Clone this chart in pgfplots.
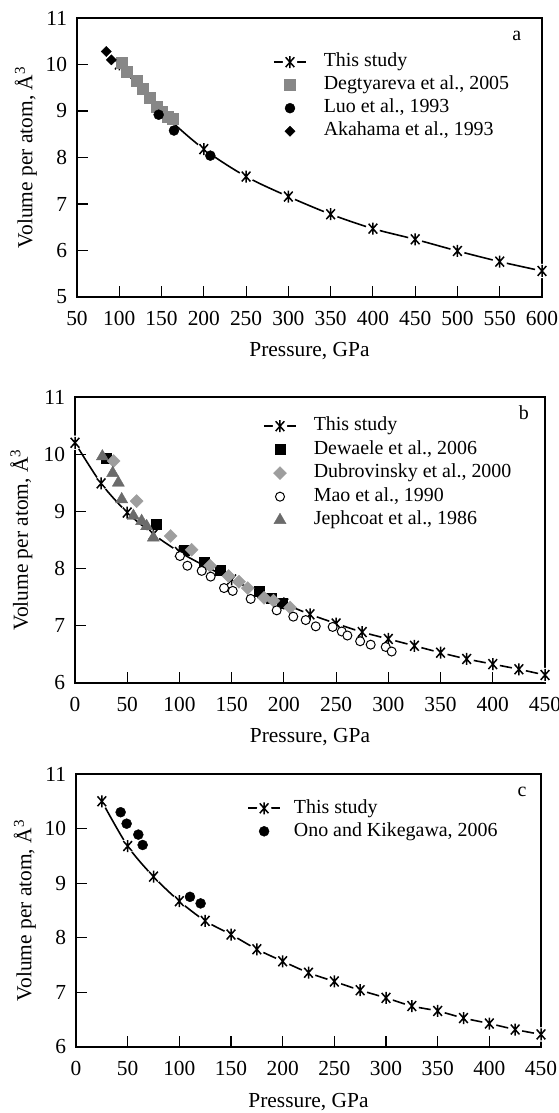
\documentclass[border=0pt]{standalone}
\usepackage{fontspec}
\setmainfont{Liberation Serif}
\usepackage{pgfplots}
\pgfplotsset{compat=1.18}
\newcommand\fs{\fontsize{20}{24}\selectfont}
\newcommand\ft{\fontsize{21.5}{26}\selectfont}
\newcommand\fl{\fontsize{21.5}{26}\selectfont}
\definecolor{degt}{gray}{0.53}
\definecolor{dubr}{gray}{0.62}
\definecolor{jeph}{gray}{0.42}
\pgfdeclareplotmark{vstar}{%
  \pgfpathmoveto{\pgfqpoint{0pt}{\pgfplotmarksize}}%
  \pgfpathlineto{\pgfqpoint{0pt}{-\pgfplotmarksize}}%
  \pgfpathmoveto{\pgfqpoint{-.72\pgfplotmarksize}{.82\pgfplotmarksize}}%
  \pgfpathlineto{\pgfqpoint{.72\pgfplotmarksize}{-.82\pgfplotmarksize}}%
  \pgfpathmoveto{\pgfqpoint{.72\pgfplotmarksize}{.82\pgfplotmarksize}}%
  \pgfpathlineto{\pgfqpoint{-.72\pgfplotmarksize}{-.82\pgfplotmarksize}}%
  \pgfusepathqstroke}
\pgfplotsset{
  panel/.style={
    scale only axis, width=465bp, height=279bp,
    axis line style={line width=1.4bp, black},
    every tick/.style={line width=1.1bp, black},
    major tick length=11bp,
    tick align=inside, xtick pos=left, ytick pos=left,
    /pgf/number format/assume math mode=true,
    tick label style={font=\ft},
    xticklabel style={yshift=-11bp},
    yticklabel style={xshift=-6.5bp},
    label style={font=\fl},
    xlabel={Pressure, GPa},
    xlabel style={at={(axis description cs:0.5,0)}, anchor=base, yshift=-60bp},
    ylabel={Volume per atom, Å\textsuperscript{3}},
    ylabel style={at={(axis description cs:-0.096,0.5)}, anchor=base},
    legend cell align=left,
    legend style={draw=none, fill=none, anchor=north west, inner sep=0pt,
      row sep=4.5bp, column sep=17bp,
      nodes={inner sep=0pt, text height=14bp, text depth=4.5bp, font=\fs}},
  },
  mk/.style={only marks, legend image code/.code={\draw[##1] plot coordinates {(16bp,0bp)};}},
  curve/.style={black, line width=1.6bp, smooth, mark=none, forget plot},
  halo/.style={only marks, mark=*, mark size=7bp, mark options={draw=white, fill=white}, white, forget plot},
  stars/.style={only marks, mark=vstar, mark size=6bp, mark options={line width=1.5bp, black}, black,
    legend image code/.code={\draw[black,line width=1.6bp] (0bp,0bp) -- (32bp,0bp);
      \fill[white] (16bp,0bp) circle[radius=7bp];
      \draw[black,line width=1.5bp] plot[mark=vstar, mark size=6bp] coordinates {(16bp,0bp)};}},
}
\begin{document}
\begin{tikzpicture}
\path[use as bounding box] (0,0) rectangle (559bp,1113bp);
% ---------------- panel a
\begin{axis}[panel, at={(77bp,816bp)}, anchor=south west,
  width=465bp, height=279bp,
  xmin=50, xmax=600, ymin=5, ymax=11,
  xtick={50,100,...,600}, ytick={5,6,...,11},
  legend style={at={(rel axis cs:0.4215,0.8755)}}]
\addplot[curve] coordinates {(100,10.0) (150,8.98) (200,8.18) (250,7.59) (300,7.16) (350,6.78) (400,6.47) (450,6.24) (500,5.99) (550,5.76) (600,5.56)};
\addplot[halo] coordinates {(100,10.0) (150,8.98) (200,8.18) (250,7.59) (300,7.16) (350,6.78) (400,6.47) (450,6.24) (500,5.99) (550,5.76) (600,5.56)};
\addplot[stars] coordinates {(100,10.0) (150,8.98) (200,8.18) (250,7.59) (300,7.16) (350,6.78) (400,6.47) (450,6.24) (500,5.99) (550,5.76) (600,5.56)};
\addlegendentry{This study}
\addplot[mk, mark=square*, mark size=5.5bp, degt, mark options={fill=degt, draw=degt}] coordinates {(102.4,10.03) (108.4,9.85) (120.2,9.65) (127.3,9.49) (136,9.29) (143.8,9.10) (149.8,8.99) (157.6,8.88) (162.8,8.83)};
\addlegendentry{Degtyareva et al., 2005}
\addplot[mk, mark=*, mark size=5bp, black] coordinates {(146.6,8.92) (164.7,8.58) (207.7,8.04)};
\addlegendentry{Luo et al., 1993}
\addplot[mk, mark=square*, mark size=3.6bp, black, mark options={rotate=45}] coordinates {(84.7,10.28) (90.6,10.10)};
\addlegendentry{Akahama et al., 1993}
\node[font=\fs] at (rel axis cs:0.946,0.935) {a};
\end{axis}
% ---------------- panel b
\begin{axis}[panel, at={(75bp,430bp)}, anchor=south west,
  width=470bp, height=286bp,
  xmin=0, xmax=450, ymin=6, ymax=11,
  xtick={0,50,...,450}, ytick={6,7,...,11},
  ylabel style={at={(axis description cs:-0.1,0.5)}},
  legend style={at={(rel axis cs:0.40,0.931)}, row sep=5bp}]
\addplot[curve] coordinates {(0,10.20) (25,9.49) (50,8.98) (75,8.60) (100,8.29) (125,8.04) (150,7.81) (175,7.59) (200,7.39) (225,7.20) (250,7.04) (275,6.89) (300,6.77) (325,6.65) (350,6.53) (375,6.42) (400,6.33) (425,6.24) (450,6.14)};
\addplot[halo] coordinates {(0,10.20) (25,9.49) (50,8.98) (75,8.60) (100,8.29) (125,8.04) (150,7.81) (175,7.59) (200,7.39) (225,7.20) (250,7.04) (275,6.89) (300,6.77) (325,6.65) (350,6.53) (375,6.42) (400,6.33) (425,6.24) (450,6.14)};
\addplot[stars] coordinates {(0,10.20) (25,9.49) (50,8.98) (75,8.60) (100,8.29) (125,8.04) (150,7.81) (175,7.59) (200,7.39) (225,7.20) (250,7.04) (275,6.89) (300,6.77) (325,6.65) (350,6.53) (375,6.42) (400,6.33) (425,6.24) (450,6.14)};
\addlegendentry{This study}
\addplot[mk, mark=square*, mark size=5bp, black] coordinates {(30.3,9.93) (78.2,8.78) (104.5,8.33) (124,8.12) (139,7.98) (176,7.60) (188,7.48) (198,7.40)};
\addlegendentry{Dewaele et al., 2006}
\addplot[mk, mark=square*, mark size=4.6bp, dubr, mark options={rotate=45, fill=dubr, draw=dubr}] coordinates {(37,9.88) (59,9.18) (91.5,8.57) (111.7,8.33) (129.3,8.05) (147,7.87) (157,7.77) (165.4,7.66) (181,7.49) (190,7.44) (206,7.32)};
\addlegendentry{Dubrovinsky et al., 2000}
\addplot[mk, mark=*, mark size=4.5bp, black, mark options={fill=white, draw=black, line width=1bp}] coordinates {(100.5,8.22) (107.6,8.05) (121.3,7.96) (129.9,7.86) (142.7,7.66) (151,7.61) (168.2,7.47) (193.1,7.27) (209,7.16) (220.9,7.10) (230.5,6.99) (246.7,6.98) (255.4,6.90) (260.8,6.83) (273,6.73) (283.1,6.67) (297.5,6.63) (303.2,6.55)};
\addlegendentry{Mao et al., 1990}
\addplot[mk, mark=triangle*, mark size=7bp, jeph, mark options={fill=jeph, draw=jeph}] coordinates {(26.2,9.96) (36.1,9.67) (41.5,9.50) (44.7,9.21) (55.9,8.92) (63.8,8.83) (68.6,8.74) (75,8.54)};
\addlegendentry{Jephcoat et al., 1986}
\node[font=\fs] at (rel axis cs:0.955,0.944) {b};
\end{axis}
% ---------------- panel c
\begin{axis}[panel, at={(76bp,66bp)}, anchor=south west,
  width=465bp, height=273bp,
  xmin=0, xmax=450, ymin=6, ymax=11,
  xtick={0,50,...,450}, ytick={6,7,...,11},
  legend style={at={(rel axis cs:0.368,0.909)}, column sep=13bp}]
\addplot[curve] coordinates {(25,10.50) (50,9.68) (75,9.12) (100,8.67) (125,8.31) (150,8.06) (175,7.79) (200,7.57) (225,7.36) (250,7.20) (275,7.04) (300,6.90) (325,6.75) (350,6.66) (375,6.53) (400,6.43) (425,6.32) (450,6.23)};
\addplot[halo] coordinates {(25,10.50) (50,9.68) (75,9.12) (100,8.67) (125,8.31) (150,8.06) (175,7.79) (200,7.57) (225,7.36) (250,7.20) (275,7.04) (300,6.90) (325,6.75) (350,6.66) (375,6.53) (400,6.43) (425,6.32) (450,6.23)};
\addplot[stars] coordinates {(25,10.50) (50,9.68) (75,9.12) (100,8.67) (125,8.31) (150,8.06) (175,7.79) (200,7.57) (225,7.36) (250,7.20) (275,7.04) (300,6.90) (325,6.75) (350,6.66) (375,6.53) (400,6.43) (425,6.32) (450,6.23)};
\addlegendentry{This study}
\addplot[mk, mark=*, mark size=5bp, black] coordinates {(43.2,10.30) (49,10.09) (60.3,9.89) (64.5,9.70) (110.3,8.75) (120.6,8.63)};
\addlegendentry{Ono and Kikegawa, 2006}
\node[font=\fs] at (rel axis cs:0.959,0.934) {c};
\end{axis}
\end{tikzpicture}
\end{document}
